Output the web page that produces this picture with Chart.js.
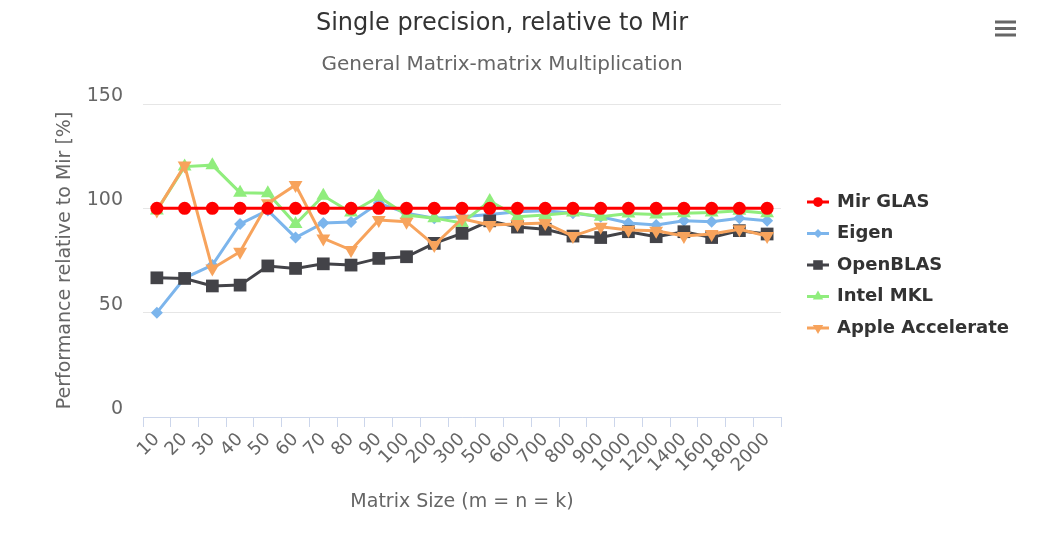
<!DOCTYPE html>
<html>
<head>
<meta charset="utf-8">
<title>Single precision, relative to Mir</title>
<script src="https://cdn.jsdelivr.net/npm/chart.js@4/dist/chart.umd.min.js"></script>
<style>
    html, body { margin: 0; padding: 0; background: #ffffff; }
    #wrap { position: relative; width: 1057px; height: 544px; }
</style>
</head>
<body>
<div id="wrap"><canvas id="chart"></canvas></div>
<script>
// Matrix sizes (m = n = k)
const sizes = ['10', '20', '30', '40', '50', '60', '70', '80', '90', '100', '200', '300', '500',
    '600', '700', '800', '900', '1000', '1200', '1400', '1600', '1800', '2000'];

// Performance relative to Mir GLAS [%]
const mirGlas = [100, 100, 100, 100, 100, 100, 100, 100, 100, 100, 100, 100, 100,
    100, 100, 100, 100, 100, 100, 100, 100, 100, 100];
const eigen = [50, 66.6, 72.8, 92.5, 99, 86, 93, 93.4, 102.5, 97.7, 95.3, 96, 97,
    98.4, 98.8, 97.7, 96, 93, 92, 94, 93.6, 95.3, 94];
const openBlas = [66.7, 66.4, 62.8, 63.2, 72.4, 71.2, 73.4, 72.8, 76, 76.8, 83.2, 88, 94,
    91, 90, 86.7, 86, 88.8, 86.4, 88.8, 86, 89.3, 87.7];
const intelMkl = [99, 120, 120.7, 107.5, 107.2, 92.5, 106, 98, 105.6, 96.8, 95.3, 93, 103.5,
    96, 96.8, 98, 96, 97.5, 97, 97.6, 98, 98.8, 97.6];
const appleAccelerate = [99, 120.5, 71.2, 79.2, 102.4, 111.2, 85.6, 80, 94.4, 93.6, 82.4, 95, 92,
    92.5, 93, 86.7, 91.2, 89.6, 89.3, 86.7, 87.7, 90, 86.7];

const yTicks = [0, 50, 100, 150];

const fontFamily = '"DejaVu Sans", Verdana, sans-serif';
Chart.defaults.font.family = fontFamily;

// build one line series
function series(label, data, color, pointStyle, radius, rotation, order) {
    return {
        label: label,
        data: data,
        borderColor: color,
        backgroundColor: color,
        pointBackgroundColor: color,
        pointBorderWidth: 0,
        borderWidth: 3,
        pointStyle: pointStyle,
        pointRadius: radius,
        pointRotation: rotation,
        tension: 0,
        fill: false,
        order: order
    };
}

/**
 * Titles, legend and menu icon, drawn on top of the chart
 */
const decorations = {
    id: 'decorations',
    afterDraw(chart) {
        const ctx = chart.ctx;
        ctx.save();

        // Title and subtitle
        ctx.textAlign = 'center';
        ctx.textBaseline = 'middle';
        ctx.fillStyle = '#333333';
        ctx.font = '24px ' + fontFamily;
        ctx.fillText('Single precision, relative to Mir', 502, 24);
        ctx.fillStyle = '#666666';
        ctx.font = '20px ' + fontFamily;
        ctx.fillText('General Matrix-matrix Multiplication', 502, 65);

        // Legend: line + marker + bold label
        ctx.textAlign = 'left';
        ctx.font = 'bold 18px ' + fontFamily;
        chart.data.datasets.forEach((ds, i) => {
            const y = 202 + i * 31.5;
            ctx.strokeStyle = ds.borderColor;
            ctx.lineWidth = 3;
            ctx.beginPath();
            ctx.moveTo(807, y);
            ctx.lineTo(829, y);
            ctx.stroke();
            ctx.fillStyle = ds.borderColor;
            Chart.helpers.drawPoint(ctx, {
                pointStyle: ds.pointStyle,
                rotation: ds.pointRotation,
                radius: ds.pointRadius * 0.75,
                borderWidth: 0
            }, 818, y);
            ctx.fillStyle = '#333333';
            ctx.fillText(ds.label, 837, y);
        });

        // Menu icon
        ctx.fillStyle = '#666666';
        [22, 28.5, 35].forEach((y) => {
            ctx.fillRect(995, y - 1.5, 21, 3);
        });

        ctx.restore();
    }
};

new Chart(document.getElementById('chart'), {
    type: 'line',
    data: {
        labels: sizes,
        datasets: [
            series('Mir GLAS', mirGlas, '#ff0000', 'circle', 6.5, 0, 0),
            series('Eigen', eigen, '#7cb5ec', 'rectRot', 6, 0, 4),
            series('OpenBLAS', openBlas, '#434348', 'rect', 9, 0, 3),
            series('Intel MKL', intelMkl, '#90ed7d', 'triangle', 8, 0, 2),
            series('Apple Accelerate', appleAccelerate, '#f7a35c', 'triangle', 8, 180, 1)
        ]
    },
    options: {
        responsive: true,
        maintainAspectRatio: false,
        animation: false,
        layout: {
            padding: { top: 104, right: 276, bottom: 0, left: 0 }
        },
        plugins: {
            legend: { display: false },
            tooltip: { enabled: false }
        },
        scales: {
            x: {
                offset: true,
                grid: {
                    offset: true,
                    drawOnChartArea: false,
                    tickLength: 10,
                    color: '#ccd6eb'
                },
                border: { color: '#ccd6eb', width: 1 },
                ticks: {
                    color: '#666666',
                    font: { size: 18 },
                    minRotation: 45,
                    maxRotation: 45,
                    autoSkip: false,
                    padding: 2
                },
                title: {
                    display: true,
                    text: 'Matrix Size (m = n = k)',
                    color: '#666666',
                    font: { size: 19 },
                    padding: { top: 0, bottom: 31 }
                },
                afterFit: (scale) => { scale.height = 127; }
            },
            y: {
                min: 0,
                max: 150,
                afterBuildTicks: (scale) => {
                    scale.ticks = yTicks.map((v) => ({ value: v }));
                },
                grid: {
                    color: '#e6e6e6',
                    drawTicks: false
                },
                border: { display: false },
                ticks: {
                    color: '#666666',
                    font: { size: 19 },
                    padding: 20,
                    labelOffset: -8
                },
                title: {
                    display: true,
                    text: 'Performance relative to Mir [%]',
                    color: '#666666',
                    font: { size: 19 },
                    padding: { top: 54, bottom: 0 }
                },
                afterFit: (scale) => { scale.width = 143; }
            }
        }
    },
    plugins: [decorations]
});
</script>
</body>
</html>
